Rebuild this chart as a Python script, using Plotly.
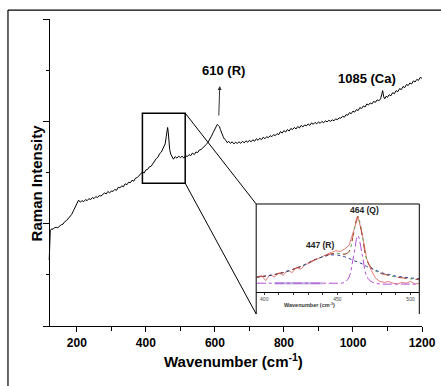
import plotly.graph_objects as go

# ---------------- main spectrum ----------------
wn = [120, 123, 127, 131, 135, 140, 145, 150, 155, 160, 165, 170, 175, 180, 185, 190, 195, 200,
      205, 210, 215, 220, 225, 230, 235, 240, 245, 250, 255, 260, 265, 270, 275, 280, 285, 290,
      295, 300, 305, 310, 315, 320, 325, 330, 335, 340, 345, 350, 355, 360, 365, 370, 375, 380,
      385, 390, 395, 400, 405, 410, 415, 420, 425, 430, 435, 440, 445, 450, 453, 456, 459, 461,
      463, 465, 467, 469, 472, 476, 480, 485, 490, 495, 500, 505, 510, 515, 520, 525, 530, 535,
      540, 545, 550, 555, 560, 565, 570, 575, 580, 585, 590, 595, 600, 604, 607, 610, 613, 616,
      620, 624, 628, 632, 636, 640, 645, 650, 655, 660, 665, 670, 675, 680, 685, 690, 695, 700,
      705, 710, 715, 720, 725, 730, 735, 740, 745, 750, 755, 760, 765, 770, 775, 780, 785, 790,
      795, 800, 805, 810, 815, 820, 825, 830, 835, 840, 845, 850, 855, 860, 865, 870, 875, 880,
      885, 890, 895, 900, 905, 910, 915, 920, 925, 930, 935, 940, 945, 950, 955, 960, 965, 970,
      975, 980, 985, 990, 995, 1000, 1005, 1010, 1015, 1020, 1025, 1030, 1035, 1040, 1045, 1050,
      1055, 1060, 1065, 1070, 1075, 1080, 1083, 1086, 1089, 1092, 1096, 1100, 1105, 1110, 1115,
      1120, 1125, 1130, 1135, 1140, 1145, 1150, 1155, 1160, 1165, 1170, 1175, 1180, 1185, 1190,
      1195, 1200]
intensity = [1.29, 1.86, 1.90, 1.89, 1.92, 1.93, 1.92, 1.96, 1.98, 1.99, 2.04, 2.06, 2.10, 2.14,
             2.18, 2.25, 2.32, 2.40, 2.46, 2.42, 2.45, 2.43, 2.47, 2.45, 2.49, 2.47, 2.51, 2.49,
             2.53, 2.51, 2.55, 2.54, 2.57, 2.60, 2.58, 2.63, 2.60, 2.64, 2.63, 2.67, 2.65, 2.71,
             2.70, 2.74, 2.72, 2.78, 2.76, 2.81, 2.80, 2.85, 2.83, 2.89, 2.90, 2.94, 2.96, 3.01,
             2.99, 3.05, 3.06, 3.11, 3.12, 3.18, 3.21, 3.27, 3.30, 3.37, 3.40, 3.46, 3.50, 3.56,
             3.70, 3.84, 3.88, 3.78, 3.58, 3.45, 3.36, 3.30, 3.26, 3.31, 3.28, 3.32, 3.29, 3.32,
             3.28, 3.33, 3.31, 3.35, 3.33, 3.38, 3.35, 3.40, 3.39, 3.44, 3.45, 3.48, 3.51, 3.55,
             3.59, 3.64, 3.71, 3.78, 3.85, 3.90, 3.94, 3.92, 3.90, 3.84, 3.76, 3.70, 3.65, 3.63,
             3.58, 3.61, 3.57, 3.60, 3.56, 3.59, 3.57, 3.60, 3.57, 3.61, 3.58, 3.62, 3.59, 3.63,
             3.60, 3.64, 3.61, 3.66, 3.63, 3.67, 3.64, 3.69, 3.66, 3.70, 3.68, 3.72, 3.70, 3.74,
             3.72, 3.76, 3.74, 3.80, 3.77, 3.82, 3.79, 3.84, 3.81, 3.86, 3.84, 3.88, 3.85, 3.90,
             3.87, 3.92, 3.89, 3.93, 3.91, 3.95, 3.92, 3.97, 3.94, 3.98, 3.95, 3.99, 3.96, 4.00,
             3.97, 4.01, 3.99, 4.02, 4.00, 4.03, 4.01, 4.05, 4.03, 4.07, 4.06, 4.10, 4.08, 4.13,
             4.12, 4.17, 4.15, 4.20, 4.18, 4.23, 4.21, 4.27, 4.25, 4.30, 4.28, 4.34, 4.32, 4.36,
             4.34, 4.39, 4.37, 4.42, 4.40, 4.44, 4.52, 4.60, 4.48, 4.44, 4.49, 4.47, 4.52, 4.50,
             4.56, 4.54, 4.60, 4.58, 4.64, 4.62, 4.68, 4.66, 4.72, 4.70, 4.75, 4.73, 4.79, 4.77,
             4.82, 4.80, 4.86, 4.84]

x_ticks = [200, 400, 600, 800, 1000, 1200]
x_tick_labels = ["200", "400", "600", "800", "1000", "1200"]
peak_labels = ["610 (R)", "1085 (Ca)"]

# ---------------- inset (peak fit around 447 / 464) ----------------
fit_wn = [395, 400, 405, 410, 415, 420, 425, 430, 435, 440, 445, 450, 455, 458, 461, 464,
          467, 470, 473, 476, 480, 485, 490, 495, 500, 506]
broad_447 = [0.17, 0.18, 0.19, 0.21, 0.23, 0.26, 0.29, 0.33, 0.37, 0.40, 0.42, 0.42, 0.40,
             0.38, 0.36, 0.34, 0.32, 0.29, 0.27, 0.25, 0.22, 0.20, 0.18, 0.17, 0.16, 0.15]
narrow_464 = [0.10, 0.10, 0.10, 0.10, 0.10, 0.10, 0.10, 0.10, 0.10, 0.10, 0.10, 0.10, 0.11,
              0.17, 0.40, 0.64, 0.42, 0.18, 0.12, 0.10, 0.09, 0.09, 0.09, 0.09, 0.09, 0.09]
fit_sum = [0.17, 0.18, 0.19, 0.21, 0.23, 0.26, 0.29, 0.33, 0.37, 0.40, 0.43, 0.44, 0.43,
           0.46, 0.66, 0.86, 0.64, 0.37, 0.28, 0.24, 0.21, 0.19, 0.17, 0.16, 0.15, 0.14]
data_wn = [395, 398, 401, 404, 407, 410, 413, 416, 419, 422, 425, 428, 431, 434, 437, 440,
           443, 446, 449, 452, 455, 458, 461, 464, 467, 470, 473, 476, 479, 482, 485, 488,
           491, 494, 497, 500, 503, 506]
data_int = [0.16, 0.19, 0.13, 0.20, 0.17, 0.22, 0.19, 0.25, 0.22, 0.28, 0.26, 0.31, 0.33,
            0.36, 0.38, 0.41, 0.43, 0.45, 0.47, 0.46, 0.49, 0.53, 0.68, 0.85, 0.66, 0.38,
            0.25, 0.16, 0.12, 0.11, 0.12, 0.10, 0.09, 0.11, 0.10, 0.12, 0.09, 0.10]
resid_wn = [407, 440]
resid_int = [0.10, 0.10]
inset_ticks = [400, 450, 500]
inset_labels = ["447 (R)", "464 (Q)"]

# axis ranges / domains
XR = [102, 1200]
YR = [0, 6]
IX_DOM = [0.5625, 0.9929]
IY_DOM = [0.1107, 0.3974]
IXR = [394.5, 506]
IYR = [0, 1]


def px(x):
    return (x - XR[0]) / (XR[1] - XR[0])


def py(y):
    return (y - YR[0]) / (YR[1] - YR[0])


FONT = "Liberation Sans, Arial, sans-serif"

fig = go.Figure()
fig.add_trace(go.Scatter(x=wn, y=intensity, mode="lines",
                         line=dict(color="black", width=1), showlegend=False,
                         xaxis="x", yaxis="y"))

# inset traces
fig.add_trace(go.Scatter(x=resid_wn, y=resid_int, mode="lines",
                         line=dict(color="#c9b6e4", width=2.5), showlegend=False,
                         xaxis="x2", yaxis="y2"))
fig.add_trace(go.Scatter(x=data_wn, y=data_int, mode="lines",
                         line=dict(color="#e05a5a", width=0.8), showlegend=False,
                         xaxis="x2", yaxis="y2"))
fig.add_trace(go.Scatter(x=fit_wn, y=fit_sum, mode="lines",
                         line=dict(color="#5aa84f", width=1, dash="dot", shape="spline"),
                         showlegend=False, xaxis="x2", yaxis="y2"))
fig.add_trace(go.Scatter(x=fit_wn, y=broad_447, mode="lines",
                         line=dict(color="#2b3f9e", width=1, dash="dot", shape="spline"),
                         showlegend=False, xaxis="x2", yaxis="y2"))
fig.add_trace(go.Scatter(x=fit_wn, y=narrow_464, mode="lines",
                         line=dict(color="#b24bd6", width=1, dash="dashdot", shape="spline"),
                         showlegend=False, xaxis="x2", yaxis="y2"))
fig.add_trace(go.Scatter(x=fit_wn, y=fit_sum, mode="lines",
                         line=dict(color="#c0392b", width=0.9, dash="dash", shape="spline"),
                         showlegend=False, xaxis="x2", yaxis="y2"))

shapes = []
# outer frame (left + top)
shapes.append(dict(type="line", xref="paper", yref="paper", x0=-0.0924, x1=-0.0924,
                   y0=1.029, y1=-0.3, line=dict(color="black", width=1.2)))
shapes.append(dict(type="line", xref="paper", yref="paper", x0=-0.0924, x1=1.1,
                   y0=1.029, y1=1.029, line=dict(color="black", width=1.2)))
# zoom box on the main spectrum
box_x = [390, 514]
box_y = [2.79, 4.16]
shapes.append(dict(type="rect", xref="x", yref="y", x0=box_x[0], x1=box_x[1],
                   y0=box_y[0], y1=box_y[1], line=dict(color="black", width=1.5)))
# connector lines
inset_bottom = 0.039
shapes.append(dict(type="line", xref="paper", yref="paper", x0=px(box_x[1]), y0=py(box_y[1]),
                   x1=IX_DOM[0], y1=IY_DOM[1], line=dict(color="black", width=1)))
shapes.append(dict(type="line", xref="paper", yref="paper", x0=px(box_x[1]), y0=py(box_y[0]),
                   x1=IX_DOM[0], y1=inset_bottom, line=dict(color="black", width=1)))
# inset frame: top, left, right
shapes.append(dict(type="line", xref="paper", yref="paper", x0=IX_DOM[0], x1=IX_DOM[1],
                   y0=IY_DOM[1], y1=IY_DOM[1], line=dict(color="black", width=1)))
shapes.append(dict(type="line", xref="paper", yref="paper", x0=IX_DOM[0], x1=IX_DOM[0],
                   y0=inset_bottom, y1=IY_DOM[1], line=dict(color="black", width=1)))
shapes.append(dict(type="line", xref="paper", yref="paper", x0=IX_DOM[1], x1=IX_DOM[1],
                   y0=inset_bottom, y1=IY_DOM[1], line=dict(color="black", width=1)))

annotations = [
    dict(x=614, y=4.69, xref="x", yref="y", text=" ", showarrow=True, ax=-1, ay=32,
         arrowhead=2, arrowsize=0.8, arrowwidth=1, arrowcolor="#333333",
         font=dict(size=2)),
    dict(x=626, y=5.0, xref="x", yref="y", text=peak_labels[0], showarrow=False,
         font=dict(family=FONT, size=13, color="black", weight="bold")),
    dict(x=1041, y=4.83, xref="x", yref="y", text=peak_labels[1], showarrow=False,
         font=dict(family=FONT, size=13, color="black", weight="bold")),
    dict(x=-0.045, y=0.466, xref="paper", yref="paper", text="Raman Intensity",
         textangle=-90, showarrow=False,
         font=dict(family=FONT, size=15, color="black", weight="bold")),
    dict(x=0.502, y=-0.149, xref="paper", yref="paper", text="Wavenumber (cm<sup>-1</sup>)",
         showarrow=False, font=dict(family=FONT, size=15, color="black", weight="bold")),
    dict(x=438.5, y=0.53, xref="x2", yref="y2", text=inset_labels[0], showarrow=False,
         font=dict(family=FONT, size=8.5, color="#222222", weight="bold")),
    dict(x=468.5, y=0.93, xref="x2", yref="y2", text=inset_labels[1], showarrow=False,
         font=dict(family=FONT, size=8.5, color="#222222", weight="bold")),
    dict(x=0.776, y=0.052, xref="paper", yref="paper", text="Wavenumber (cm<sup>-1</sup>)",
         showarrow=False, font=dict(family=FONT, size=5.5, color="#333333", weight="bold")),
]

fig.update_layout(
    width=441, height=386,
    margin=dict(l=43, r=19, t=19, b=60, autoexpand=False),
    paper_bgcolor="white", plot_bgcolor="white",
    font=dict(family=FONT, color="black"),
    shapes=shapes, annotations=annotations,
    xaxis=dict(range=XR, domain=[0, 1], automargin=False, showline=True, linecolor="black",
               linewidth=1.3, showgrid=False, zeroline=False, ticks="outside", ticklen=5,
               tickwidth=1, tickcolor="black", tickvals=x_ticks, ticktext=x_tick_labels,
               tickfont=dict(family=FONT, size=12, color="black", weight="bold"),
               minor=dict(tickvals=[300, 500, 700, 900, 1100], ticks="outside", ticklen=4,
                          tickcolor="black", tickwidth=1)),
    yaxis=dict(range=YR, anchor="free", position=px(120), automargin=False, showline=True,
               linecolor="black", linewidth=1.3, showgrid=False, zeroline=False,
               ticks="outside", ticklen=6, tickwidth=1, tickcolor="black",
               tickvals=[0, 2, 4, 6], showticklabels=False,
               minor=dict(tickvals=[1, 3, 5], ticks="outside", ticklen=3.5,
                          tickcolor="black", tickwidth=1)),
    xaxis2=dict(range=IXR, domain=IX_DOM, anchor="y2", automargin=False, showline=True,
                linecolor="black", linewidth=1, showgrid=False, zeroline=False,
                ticks="outside", ticklen=2, tickwidth=0.8, tickcolor="#333333",
                tickvals=inset_ticks, ticklabelstandoff=0,
                tickfont=dict(family=FONT, size=5, color="#444444"),
                minor=dict(dtick=10, tick0=400, ticks="outside", ticklen=2,
                           tickcolor="#333333", tickwidth=0.8)),
    yaxis2=dict(range=IYR, domain=IY_DOM, anchor="x2", automargin=False, showline=False,
                showgrid=False, zeroline=False, showticklabels=False, ticks=""),
)

fig.write_html("out.html", config={"displayModeBar": False},
               post_script="document.body.style.margin='0px';document.body.style.overflow='hidden';")
